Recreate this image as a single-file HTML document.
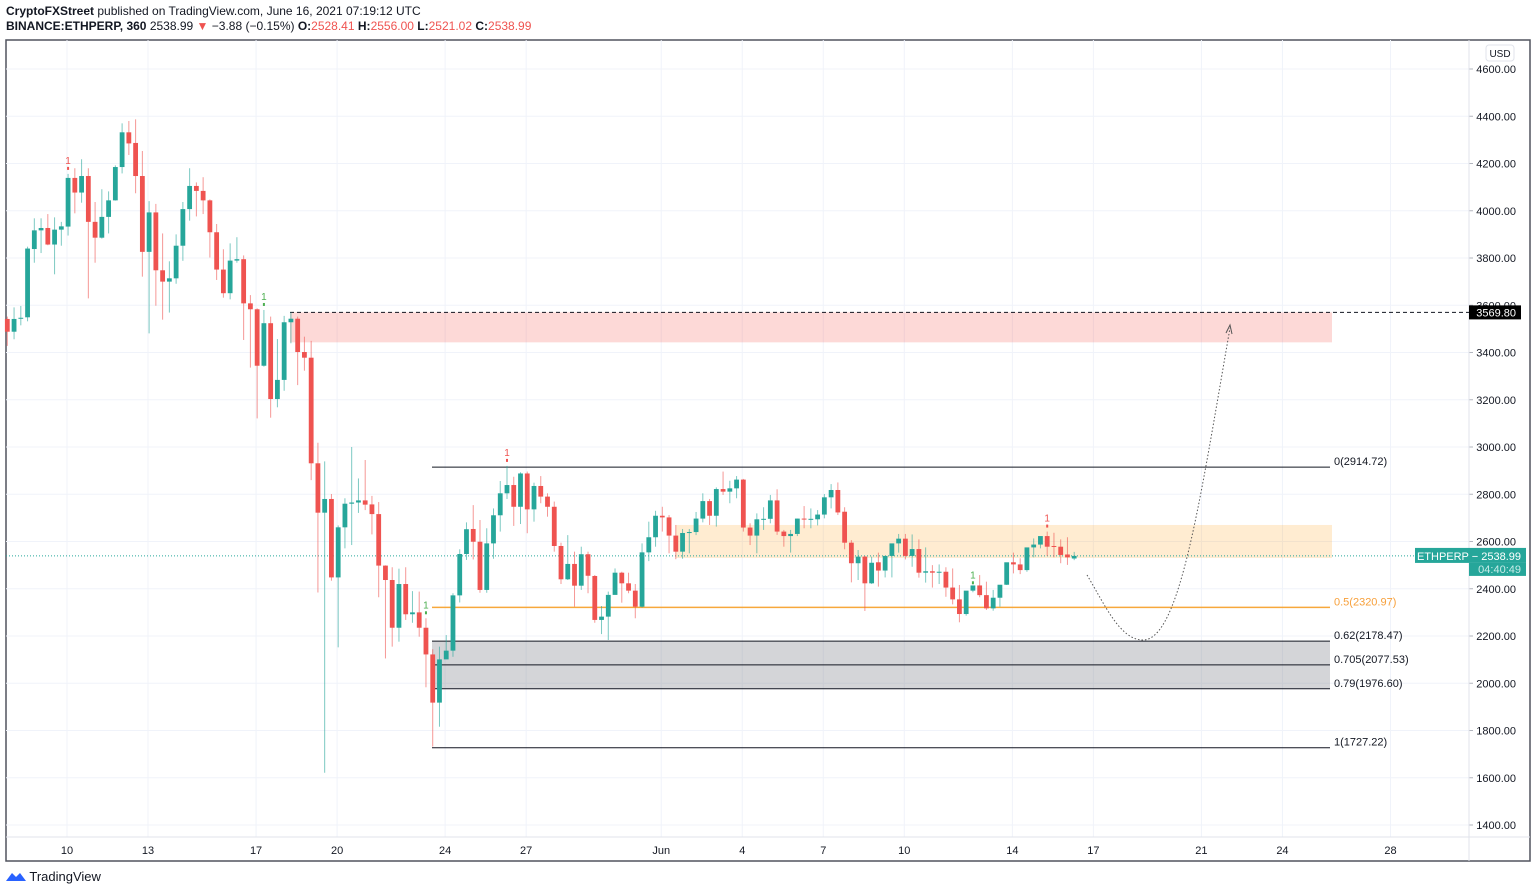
<!DOCTYPE html>
<html><head><meta charset="utf-8">
<style>
body{margin:0;background:#fff;width:1536px;height:895px;overflow:hidden;font-family:"Liberation Sans",sans-serif}
#hdr1{position:absolute;left:6px;top:4px;font-size:12px;color:#131722}
#hdr2{position:absolute;left:6px;top:19px;font-size:12px;color:#131722}
.r{color:#ef5350}
#logo{position:absolute;left:6px;top:869px;font-size:13px;color:#131722}
</style></head><body>
<div id="hdr1"><b>CryptoFXStreet</b> published on TradingView.com, June 16, 2021 07:19:12 UTC</div>
<div id="hdr2"><b>BINANCE:ETHPERP, 360</b> 2538.99 <span class="r">▼</span> −3.88 (−0.15%) <b>O:</b><span class="r">2528.41</span> <b>H:</b><span class="r">2556.00</span> <b>L:</b><span class="r">2521.02</span> <b>C:</b><span class="r">2538.99</span></div>
<svg id="chart" width="1536" height="895" style="position:absolute;left:0;top:0" xmlns="http://www.w3.org/2000/svg" font-family="Liberation Sans, sans-serif"></svg>
<div id="logo"><svg width="20" height="12" style="vertical-align:-1px"><path d="M0 11 L6 3 L10 7 L14 3 L20 11 Z" fill="#2962ff"/></svg> TradingView</div>
<script>
const opens=[3542,3488,3545,3549,3838,3917,3927,3857,3920,3933,4139,4077,4147,3953,3886,3974,4044,4185,4332,4287,4147,3826,3993,3748,3700,3714,3852,4007,4105,4084,4044,3909,3751,3651,3789,3795,3608,3583,3344,3524,3203,3284,3528,3543,3402,3378,2931,2722,2780,2448,2660,2760,2765,2774,2757,2716,2498,2437,2235,2420,2292,2300,2235,2122,1918,2101,2138,2372,2547,2653,2599,2395,2592,2711,2804,2839,2747,2888,2736,2835,2790,2747,2581,2440,2505,2413,2546,2454,2268,2282,2374,2468,2423,2392,2324,2554,2618,2709,2702,2625,2557,2636,2640,2697,2771,2709,2822,2811,2825,2862,2659,2625,2694,2696,2774,2642,2623,2632,2697,2694,2694,2714,2787,2818,2726,2595,2508,2536,2423,2512,2477,2539,2592,2612,2539,2568,2468,2474,2468,2472,2405,2355,2293,2392,2414,2373,2317,2362,2417,2512,2503,2479,2575,2587,2623,2581,2578,2545,2528];
const highs=[3552,3591,3597,3848,3968,3968,3986,3972,3953,4156,4180,4218,4180,4037,4091,4082,4192,4370,4380,4387,4253,4041,4029,3904,3786,3900,4037,4180,4120,4142,4048,3944,3837,3862,3888,3811,3643,3587,3580,3552,3457,3555,3570,3552,3467,3449,3018,2939,2801,2668,2783,3000,2867,2945,2793,2767,2499,2491,2485,2491,2390,2388,2275,2144,2155,2204,2381,2567,2681,2754,2691,2656,2740,2856,2920,2874,2893,2896,2849,2877,2804,2769,2595,2627,2557,2578,2557,2458,2327,2388,2486,2472,2468,2420,2592,2684,2730,2747,2712,2670,2653,2653,2725,2804,2780,2829,2896,2857,2877,2865,2677,2719,2745,2797,2821,2649,2649,2697,2750,2740,2733,2801,2843,2850,2745,2606,2564,2539,2536,2553,2522,2553,2632,2632,2630,2609,2575,2500,2503,2491,2486,2416,2359,2402,2458,2430,2395,2369,2430,2553,2529,2510,2613,2599,2642,2637,2609,2618,2556];
const lows=[3428,3456,3515,3532,3780,3821,3854,3731,3852,3895,3989,4034,3629,3780,3882,3904,4043,4158,4236,4074,3721,3481,3598,3539,3569,3691,3788,3958,3976,3986,3802,3707,3632,3625,3780,3453,3336,3121,3340,3124,3168,3238,3439,3262,3323,2860,2384,1621,2434,2152,2571,2585,2721,2733,2630,2364,2105,2155,2176,2268,2256,2197,1983,1732,1816,2112,2112,2342,2522,2524,2383,2383,2527,2642,2780,2666,2674,2635,2684,2762,2705,2557,2420,2437,2324,2395,2381,2256,2208,2183,2381,2341,2381,2275,2320,2517,2578,2642,2550,2525,2527,2550,2627,2681,2670,2663,2797,2762,2783,2642,2585,2550,2649,2677,2628,2578,2553,2623,2656,2656,2668,2698,2740,2712,2567,2427,2437,2306,2420,2409,2448,2448,2553,2524,2493,2447,2426,2405,2420,2366,2334,2258,2286,2385,2364,2310,2307,2324,2416,2465,2462,2472,2533,2571,2539,2533,2508,2501,2521];
const closes=[3488,3542,3547,3840,3917,3927,3857,3920,3934,4139,4077,4147,3953,3886,3974,4044,4185,4332,4285,4147,3826,3993,3748,3700,3714,3852,4007,4105,4084,4044,3909,3751,3651,3789,3795,3608,3583,3344,3524,3203,3284,3528,3543,3402,3378,2931,2722,2780,2448,2660,2760,2765,2774,2756,2716,2498,2437,2235,2420,2292,2300,2235,2122,1918,2101,2138,2372,2547,2652,2599,2395,2592,2711,2804,2839,2747,2888,2736,2835,2790,2747,2581,2440,2505,2413,2546,2455,2268,2282,2374,2468,2423,2392,2324,2554,2618,2709,2702,2625,2557,2636,2640,2697,2771,2709,2822,2811,2825,2862,2659,2625,2694,2696,2774,2642,2623,2632,2697,2694,2696,2714,2787,2818,2723,2595,2508,2536,2423,2510,2477,2539,2592,2612,2539,2568,2468,2474,2468,2472,2405,2355,2293,2392,2414,2373,2317,2362,2417,2512,2503,2479,2575,2587,2623,2578,2578,2543,2533,2538.99];
const priceTicks=[1400,1600,1800,2000,2200,2400,2600,2800,3000,3200,3400,3600,3800,4000,4200,4400,4600];
const dateTickDays=[0,3,7,10,14,17,22,25,28,31,35,38,42,45,49];
const dateTickLabels=["10","13","17","20","24","27","Jun","4","7","10","14","17","21","24","28"];
const fibLevels=[0,0.5,0.62,0.705,0.79,1];
const fibPrices=[2914.72,2320.97,2178.47,2077.53,1976.60,1727.22];
const signalUp=[38,62,143];
const signalDown=[9,74,154];
const resistanceZone=[3569.8,3443];
const supplyZone=[2670,2530];
const lastPrice=2538.99;

const svg=document.getElementById('chart');
const NS='http://www.w3.org/2000/svg';
const PL=6,PR=1469,PT=40,PB=837;
function y(p){return 69+(4600-p)*0.23625;}
function xDay(d){return 67+d*27.01;}
function xC(i){return xDay((i-8.84)/4);}
function mk(t,a,parent){const e=document.createElementNS(NS,t);for(const k in a)e.setAttribute(k,a[k]);(parent||svg).appendChild(e);return e;}

const frame=mk('rect',{x:6,y:40,width:1524,height:821,fill:'none',stroke:'#50535e','stroke-width':1.5});


priceTicks.forEach(p=>{
  const g=mk('line',{x1:PL,x2:PR,y1:y(p),y2:y(p),stroke:'#f0f3fa'});
  
  
  const t=mk('text',{x:1516,y:y(p)+4,'font-size':11,'text-anchor':'end',fill:'#131722'});
  t.textContent=p.toFixed(2);
  
  
  mk('line',{x1:PR,x2:PR+4,y1:y(p),y2:y(p),stroke:'#b2b5be'});
});
dateTickDays.forEach((d,k)=>{
  const g=mk('line',{x1:xDay(d),x2:xDay(d),y1:PT,y2:PB,stroke:'#f0f3fa'});
  
  
  const t=mk('text',{x:xDay(d),y:854,'font-size':11,'text-anchor':'middle',fill:'#131722'});
  t.textContent=dateTickLabels[k];
  
  
});
mk('line',{x1:PR,x2:PR,y1:PT,y2:861,stroke:'#e0e3eb'});
mk('line',{x1:PL,x2:1530,y1:PB,y2:PB,stroke:'#e0e3eb'});
const usd=mk('rect',{x:1486,y:45,width:28,height:16,rx:3,fill:'#fff',stroke:'#e0e3eb'});


const ut=mk('text',{x:1500,y:57,'font-size':10,'text-anchor':'middle',fill:'#131722'});ut.textContent='USD';

const rz=mk('rect',{x:290,y:y(resistanceZone[0]),width:1042,height:y(resistanceZone[1])-y(resistanceZone[0]),fill:'rgba(244,67,54,0.2)'});


const sz=mk('rect',{x:676,y:y(supplyZone[0]),width:656,height:y(supplyZone[1])-y(supplyZone[0]),fill:'rgba(255,152,0,0.18)'});


const gz=mk('rect',{x:432,y:y(fibPrices[2]),width:898,height:y(fibPrices[4])-y(fibPrices[2]),fill:'rgba(120,123,134,0.32)'});


fibLevels.forEach((lv,k)=>{
  const c=lv===0.5?'#f7a83b':'#131722';
  const l=mk('line',{x1:432,x2:1330,y1:y(fibPrices[k]),y2:y(fibPrices[k]),stroke:c,'stroke-width':lv===0.5?1.5:1});
  
  
  const t=mk('text',{x:1334,y:y(fibPrices[k])-2,'font-size':11,fill:lv===0.5?'#f7a03b':'#131722'});
  t.textContent=lv+'('+fibPrices[k].toFixed(2)+')';
  
  
});
const ray=mk('line',{x1:290,x2:PR,y1:y(resistanceZone[0]),y2:y(resistanceZone[0]),stroke:'#131722','stroke-dasharray':'4 3'});


const rl=mk('rect',{x:1469,y:y(resistanceZone[0])-7,width:52,height:14,fill:'#000'});


const rlt=mk('text',{x:1516,y:y(resistanceZone[0])+4,'font-size':11,'text-anchor':'end',fill:'#fff'});rlt.textContent=resistanceZone[0].toFixed(2);
const lp=mk('line',{x1:PL,x2:PR,y1:y(lastPrice),y2:y(lastPrice),stroke:'#26a69a','stroke-dasharray':'1 2'});


const lb=mk('rect',{x:1415,y:y(lastPrice)-8,width:111,height:15,fill:'#26a69a'});


const lb2=mk('rect',{x:1469,y:y(lastPrice)+7,width:57,height:13,fill:'#26a69a'});
const lt=mk('text',{x:1521,y:y(lastPrice)+4,'font-size':11,'text-anchor':'end',fill:'#fff'});lt.textContent='ETHPERP  −  '+lastPrice.toFixed(2);
const lt2=mk('text',{x:1521,y:y(lastPrice)+17,'font-size':11,'text-anchor':'end',fill:'#c8ece8'});lt2.textContent='04:40:49';

for(let i=0;i<closes.length;i++){
  const up=closes[i]>=opens[i];const col=up?'#26a69a':'#ef5350';
  const x=xC(i);
  const g=mk('g',{});
  
  
  mk('line',{x1:x,x2:x,y1:y(highs[i]),y2:y(lows[i]),stroke:col,'stroke-width':1,opacity:0.6},g);
  const top=y(Math.max(opens[i],closes[i])),bot=y(Math.min(opens[i],closes[i]));
  mk('rect',{x:x-2.4,y:top,width:4.8,height:Math.max(1,bot-top),fill:col},g);
}
signalUp.forEach(i=>{
  const t=mk('text',{x:xC(i),y:y(highs[i])-10,'font-size':10,'text-anchor':'middle',fill:'#4caf50'});t.textContent='1';
  
  
  mk('rect',{x:xC(i)-1,y:y(highs[i])-7,width:2,height:3,fill:'#4caf50'});
});
signalDown.forEach(i=>{
  const t=mk('text',{x:xC(i),y:y(highs[i])-10,'font-size':10,'text-anchor':'middle',fill:'#ef5350'});t.textContent='1';
  
  
  mk('rect',{x:xC(i)-1,y:y(highs[i])-7,width:2,height:3,fill:'#ef5350'});
});
const pp=mk('path',{d:'M1087 575 C1105 605 1120 640 1143 640 C1180 640 1200 500 1230 328',fill:'none',stroke:'#555','stroke-width':1,'stroke-dasharray':'1.5 2'});


mk('path',{d:'M1226 333 L1230 325 L1232 334',fill:'none',stroke:'#555','stroke-width':1});
</script>
</body></html>
